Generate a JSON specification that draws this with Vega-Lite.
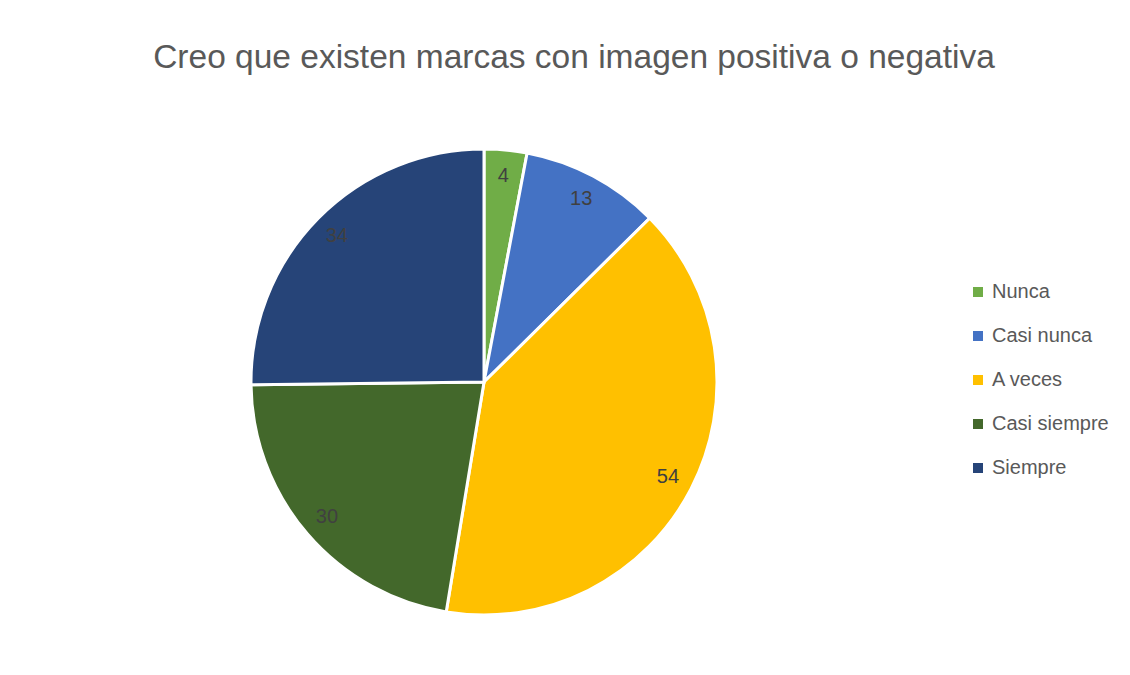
{
  "$schema": "https://vega.github.io/schema/vega-lite/v6.json",
  "autosize": {"type": "none"},
  "padding": {"left": 251, "top": 149, "right": 413, "bottom": 60},
  "width": 466,
  "height": 466,
  "background": "white",
  "title": {
    "text": "Creo que existen marcas con imagen positiva o negativa",
    "font": "Liberation Sans",
    "fontSize": 33.5,
    "fontWeight": "normal",
    "color": "#595959",
    "anchor": "middle",
    "frame": "group",
    "limit": 1100,
    "dx": 90,
    "offset": 68
  },
  "data": {
    "values": [
      {"respuesta": "Nunca", "valor": 4, "orden": 1},
      {"respuesta": "Casi nunca", "valor": 13, "orden": 2},
      {"respuesta": "A veces", "valor": 54, "orden": 3},
      {"respuesta": "Casi siempre", "valor": 30, "orden": 4},
      {"respuesta": "Siempre", "valor": 34, "orden": 5}
    ]
  },
  "encoding": {
    "theta": {"field": "valor", "type": "quantitative", "stack": true},
    "order": {"field": "orden", "type": "quantitative"}
  },
  "layer": [
    {
      "mark": {"type": "arc", "outerRadius": 233, "stroke": "white", "strokeWidth": 3},
      "encoding": {
        "color": {
          "field": "respuesta",
          "type": "nominal",
          "scale": {
            "domain": ["Nunca", "Casi nunca", "A veces", "Casi siempre", "Siempre"],
            "range": ["#70AD47", "#4472C4", "#FFC000", "#43682B", "#264478"]
          },
          "legend": {
            "title": null,
            "orient": "none",
            "legendX": 717,
            "legendY": 133,
            "symbolType": "square",
            "symbolSize": 100,
            "symbolStrokeWidth": 0,
            "labelFont": "Liberation Sans",
            "labelFontSize": 20,
            "labelColor": "#595959",
            "rowPadding": 24,
            "labelOffset": 4
          }
        }
      }
    },
    {
      "mark": {"type": "text", "radius": 207, "font": "Liberation Sans", "fontSize": 20, "color": "#404040"},
      "encoding": {
        "text": {"field": "valor", "type": "quantitative"}
      }
    }
  ]
}
